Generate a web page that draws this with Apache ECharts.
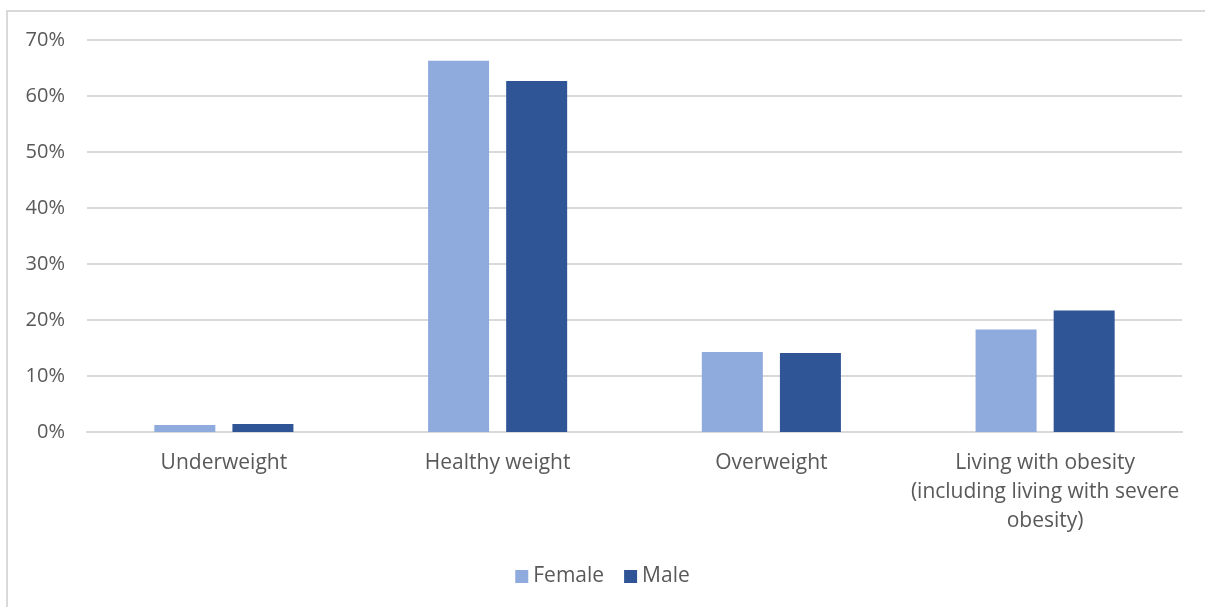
<!DOCTYPE html>
<html>
<head>
<meta charset="utf-8">
<script src="https://cdn.jsdelivr.net/npm/echarts@6/dist/echarts.min.js"></script>
<style>
    html, body { margin: 0; padding: 0; background: #fff; }
    #frame {
        position: absolute; left: 6px; top: 10px; width: 1205px; height: 610px;
        border-top: 2px solid #d9d9d9; border-left: 2px solid #d9d9d9;
    }
    #chart { position: absolute; left: 0; top: 0; width: 1205px; height: 607px; }
</style>
</head>
<body>
<div id="frame"></div>
<div id="chart"></div>
<script>
// weight categories
const categories = [
    'Underweight',
    'Healthy weight',
    'Overweight',
    'Living with obesity\n(including living with severe\nobesity)'
]
const female = [1.25, 66.3, 14.3, 18.3]
const male = [1.45, 62.7, 14.1, 21.7]
const yTicks = [0, 10, 20, 30, 40, 50, 60, 70]

const fontFamily = '"Open Sans", "Noto Sans", sans-serif'
const textColor = '#595959'

const chart = echarts.init(document.getElementById('chart'))

chart.setOption({
    animation: false,
    textStyle: {fontFamily: fontFamily},
    grid: {left: 87, right: 23, top: 40, bottom: 175},
    legend: {
        bottom: 15,
        left: 'center',
        itemWidth: 13,
        itemHeight: 13,
        itemGap: 20,
        icon: 'rect',
        textStyle: {color: textColor, fontSize: 21, fontFamily: fontFamily}
    },
    xAxis: {
        type: 'category',
        data: categories,
        axisTick: {show: false},
        axisLine: {lineStyle: {color: '#d9d9d9', width: 2}},
        axisLabel: {
            color: textColor,
            fontSize: 21,
            lineHeight: 29,
            margin: 17,
            interval: 0
        }
    },
    yAxis: {
        type: 'value',
        min: yTicks[0],
        max: yTicks[yTicks.length - 1],
        interval: 10,
        axisLabel: {
            color: textColor,
            fontSize: 20,
            margin: 22,
            formatter: v => v + '%'
        },
        splitLine: {lineStyle: {color: '#d9d9d9', width: 2}}
    },
    series: [
        {
            name: 'Female',
            type: 'bar',
            data: female,
            barWidth: 61,
            barGap: '28%',
            itemStyle: {color: '#8faadc'}
        },
        {
            name: 'Male',
            type: 'bar',
            data: male,
            barWidth: 61,
            itemStyle: {color: '#2f5597'}
        }
    ]
})
</script>
</body>
</html>
